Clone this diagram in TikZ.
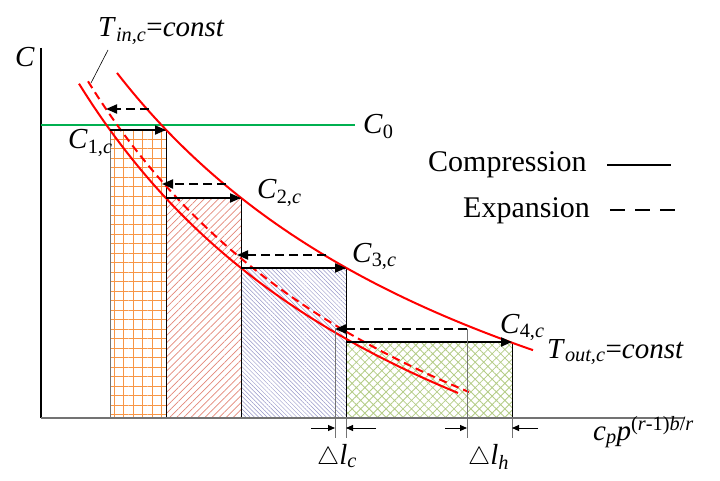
\documentclass[tikz,border=0pt]{standalone}
\usepackage{fontspec}
\setmainfont{LiberationSerif}[Extension=.ttf, UprightFont=*-Regular, ItalicFont=*-Italic, BoldFont=*-Bold, BoldItalicFont=*-BoldItalic]
\usepackage{tikz}
\usetikzlibrary{arrows.meta,patterns.meta,positioning}
\definecolor{curveRed}{RGB}{255,0,0}
\definecolor{levelGreen}{RGB}{0,176,80}
\definecolor{gridOrange}{RGB}{247,150,70}
\definecolor{hatchRed}{RGB}{226,135,120}
\definecolor{hatchBlue}{RGB}{150,150,200}
\definecolor{hatchGreen}{RGB}{180,204,135}
\definecolor{axisGray}{RGB}{115,115,115}
\newcommand{\labfont}{\fontsize{29}{33}\selectfont}
\newcommand{\legfont}{\fontsize{30}{34}\selectfont}
\newcommand{\symsub}[2]{\textit{#1}\textsubscript{#2}}
\tikzset{
  lbl/.style={inner sep=0pt, anchor=base west, font=\labfont},
  leglbl/.style={inner sep=0pt, anchor=base west, font=\legfont},
  isotherm/.style={draw=curveRed, line width=2pt},
  isothermExp/.style={isotherm, dash pattern=on 8pt off 5pt},
  heatbox/.style={draw=black, line width=0.8pt},
  gridfill/.style={pattern={Hatch[angle=0,distance=9.5pt,line width=0.9pt]}, pattern color=gridOrange},
  redfill/.style={pattern={Lines[angle=45,distance=5pt,line width=0.7pt]}, pattern color=hatchRed},
  bluefill/.style={pattern={Lines[angle=-45,distance=3pt,line width=0.5pt]}, pattern color=hatchBlue},
  greenfill/.style={pattern={Hatch[angle=45,distance=6pt,line width=0.8pt]}, pattern color=hatchGreen},
  compArrow/.style={-{Triangle[length=11pt,width=9pt]}, line width=2pt},
  expArrow/.style={compArrow, dash pattern=on 9pt off 5pt},
  dimline/.style={draw=axisGray, line width=0.9pt},
  dimArrow/.style={-{Triangle[length=7pt,width=6pt]}, line width=0.9pt}
}
\begin{document}
\begin{tikzpicture}[x=1pt,y=-1pt]
  \useasboundingbox (0,0) rectangle (720,481);
  \coordinate (org) at (41,418);
  \coordinate (ytop) at (41,48);
  \coordinate (xend) at (685,418);
  \coordinate (c1) at (110,130);
  \coordinate (c2) at (166,198);
  \coordinate (c3) at (241,268);
  \coordinate (c4) at (346,342);
  \coordinate (c5) at (512,342);
  \coordinate (h1) at (149,109);
  \coordinate (k1) at (106,109);
  \coordinate (h2) at (226,184);
  \coordinate (k2) at (162,184);
  \coordinate (h3) at (326,255);
  \coordinate (k3) at (237,255);
  \coordinate (h4) at (467,329);
  \coordinate (k4) at (335,329);
  \coordinate (dimbase) at (0,438);

  \draw[heatbox, gridfill] (c1) rectangle (c2 |- org);
  \draw[heatbox, redfill] (c2) rectangle (c3 |- org);
  \draw[heatbox, bluefill] (c3) rectangle (c4 |- org);
  \draw[heatbox, greenfill] (c4) rectangle (c5 |- org);
  \draw[axisGray, line width=0.9pt] (c1) -- (c1 |- org);

  \draw[line width=1.2pt] (ytop) -- (org);
  \draw[axisGray, line width=1.5pt] (org) -- (xend);

  \coordinate (g0) at (41,125);
  \coordinate (g1) at (355,125);
  \draw[levelGreen, line width=1.5pt] (g0) -- (g1);

  \draw[isotherm] plot[domain=117:533, samples=80] (\x,{648-2570.57/(\x/100+3.3)});
  \draw[isotherm] plot[domain=79:458, samples=80] (\x,{710.2-2435.82/(\x/100+3.098)});
  \draw[isothermExp] plot[domain=88:469, samples=80] (\x,{710.96-2462.61/(\x/100+3.031)});

  \draw[compArrow] (c1) -- (c1 -| c2);
  \draw[compArrow] (c2) -- (c2 -| c3);
  \draw[compArrow] (c3) -- (c3 -| c4);
  \draw[compArrow] (c4) -- (c5);
  \draw[expArrow] (h1) -- (k1);
  \draw[expArrow] (h2) -- (k2);
  \draw[expArrow] (h3) -- (k3);
  \draw[expArrow] (h4) -- (k4);

  \draw[dimline] (k4) -- (k4 |- dimbase);
  \draw[dimline] (c4 |- org) -- (c4 |- dimbase);
  \draw[dimline] (h4) -- (h4 |- dimbase);
  \draw[dimline] (c5 |- org) -- (c5 |- dimbase);
  \coordinate (lc0) at (311,428);
  \coordinate (lc1) at (335,428);
  \coordinate (lc2) at (346,428);
  \coordinate (lc3) at (376,428);
  \coordinate (lh0) at (445,428);
  \coordinate (lh1) at (467,428);
  \coordinate (lh2) at (512,428);
  \coordinate (lh3) at (538,428);
  \draw[dimArrow] (lc0) -- (lc1);
  \draw[dimArrow] (lc3) -- (lc2);
  \draw[dimArrow] (lh0) -- (lh1);
  \draw[dimArrow] (lh3) -- (lh2);

  \node[lbl] (yname) at (15,67) {\textit{C}};
  \node[lbl] (tin) at (98,37) {\symsub{T}{\textit{in,c}}=\textit{const}};
  \coordinate (tin1) at (108,50);
  \coordinate (tin2) at (91,83);
  \draw[line width=0.6pt] (tin1) -- (tin2);
  \node[lbl] (cone) at (68,149) {\symsub{C}{1,\textit{c}}};
  \node[lbl] (czero) at (363,134) {\symsub{C}{0}};
  \node[lbl] (ctwo) at (257,199) {\symsub{C}{2,\textit{c}}};
  \node[lbl] (cthree) at (352,262) {\symsub{C}{3,\textit{c}}};
  \node[lbl] (cfour) at (500,333) {\symsub{C}{4,\textit{c}}};
  \node[lbl] (tout) at (547,358) {\symsub{T}{\textit{out,c}}=\textit{const}};
  \node[lbl] (xname) at (593,440) {\symsub{c}{\textit{p}}\textit{p}\textsuperscript{(\textit{r}-1)\textit{b}/\textit{r}}};
  \node[lbl] (dlc) at (317,464) {$\triangle$\symsub{l}{\textit{c}}};
  \node[lbl] (dlh) at (468,464) {$\triangle$\symsub{l}{\textit{h}}};

  \node[leglbl] (comp) at (428,172) {Compression};
  \node[leglbl] (expa) at (463,218) {Expansion};
  \coordinate (ls0) at (607,165);
  \coordinate (ls1) at (671,165);
  \coordinate (le0) at (610,210);
  \coordinate (le1) at (675,210);
  \draw[line width=1.8pt] (ls0) -- (ls1);
  \draw[line width=1.8pt, dash pattern=on 15pt off 10pt] (le0) -- (le1);
\end{tikzpicture}
\end{document}
